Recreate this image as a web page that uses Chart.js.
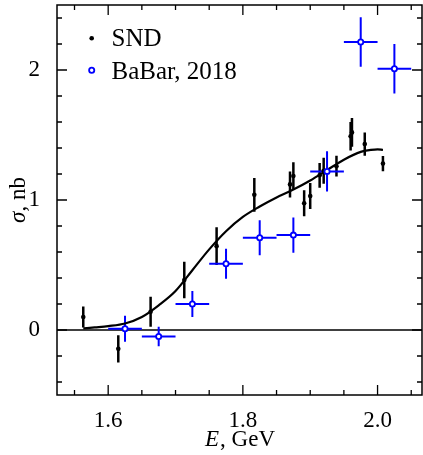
<!DOCTYPE html>
<html>
<head>
<meta charset="utf-8">
<script src="https://cdn.jsdelivr.net/npm/chart.js@4.4.0/dist/chart.umd.min.js"></script>
<style>
html, body { margin: 0; padding: 0; background: #fff; }
</style>
</head>
<body>
<canvas id="chart" width="423" height="455"></canvas>
<script>
// SND points (E in GeV, sigma in nb, symmetric stat. error)
var sndE     = [1.563, 1.615, 1.663, 1.713, 1.761, 1.817, 1.870, 1.875, 1.891, 1.900, 1.914, 1.920, 1.939, 1.960, 1.962, 1.981, 2.008];
var sndSigma = [0.10, -0.145, 0.14, 0.385, 0.645, 1.04, 1.12, 1.185, 0.975, 1.03, 1.19, 1.225, 1.26, 1.49, 1.52, 1.43, 1.28];
var sndErr   = [0.08, 0.105, 0.115, 0.14, 0.145, 0.13, 0.10, 0.105, 0.10, 0.10, 0.095, 0.10, 0.08, 0.11, 0.11, 0.09, 0.058];

// BaBar 2018 points
var babarE     = [1.625, 1.675, 1.725, 1.775, 1.825, 1.875, 1.925, 1.975, 2.025];
var babarSigma = [0.01, -0.05, 0.20, 0.51, 0.71, 0.73, 1.22, 2.215, 2.01];
var babarErr   = [0.10, 0.075, 0.10, 0.115, 0.135, 0.135, 0.155, 0.19, 0.19];
var babarEErr  = [0.025, 0.025, 0.025, 0.025, 0.025, 0.025, 0.025, 0.025, 0.025];

// fit curve
var fitE     = [1.563, 1.58, 1.60, 1.625, 1.65, 1.675, 1.70, 1.725, 1.75, 1.775, 1.80, 1.825, 1.85, 1.875, 1.90, 1.925, 1.95, 1.975, 1.99, 2.00, 2.008];
var fitSigma = [0.012, 0.02, 0.03, 0.05, 0.10, 0.19, 0.30, 0.46, 0.62, 0.76, 0.87, 0.95, 1.02, 1.08, 1.15, 1.23, 1.31, 1.37, 1.385, 1.39, 1.385];

// ticks
var xMajorTicks = [1.6, 1.8, 2.0];
var xMinorTicks = [1.55, 1.65, 1.7, 1.75, 1.85, 1.9, 1.95, 2.05];
var yMajorTicks = [0, 1, 2];
var yMinorTicks = [-0.4, -0.2, 0.2, 0.4, 0.6, 0.8, 1.2, 1.4, 1.6, 1.8, 2.2, 2.4];

var BLUE = '#0000ff';
var SERIF = '"Liberation Serif", "DejaVu Serif", serif';

function pts(xs, ys) {
    var out = [];
    for (var i = 0; i < xs.length; i++) {
        out.push({x: xs[i], y: ys[i]});
    }
    return out;
}

function noPad(s) {
    s.paddingTop = 0;
    s.paddingBottom = 0;
    s.paddingLeft = 0;
    s.paddingRight = 0;
}

var overlay = {
    id: 'overlay',
    beforeDatasetsDraw: function(chart) {
        var ctx = chart.ctx;
        var xs = chart.scales.x, ys = chart.scales.y;
        var a = chart.chartArea;
        ctx.save();
        // zero line
        ctx.strokeStyle = '#000';
        ctx.lineWidth = 1.3;
        ctx.beginPath();
        ctx.moveTo(a.left, ys.getPixelForValue(0));
        ctx.lineTo(a.right, ys.getPixelForValue(0));
        ctx.stroke();
        // SND error bars
        ctx.lineWidth = 2.5;
        ctx.beginPath();
        for (var i = 0; i < sndE.length; i++) {
            var px = xs.getPixelForValue(sndE[i]);
            ctx.moveTo(px, ys.getPixelForValue(sndSigma[i] - sndErr[i]));
            ctx.lineTo(px, ys.getPixelForValue(sndSigma[i] + sndErr[i]));
        }
        ctx.stroke();
        // BaBar error bars
        ctx.strokeStyle = BLUE;
        ctx.lineWidth = 2;
        ctx.beginPath();
        for (var j = 0; j < babarE.length; j++) {
            var bx = xs.getPixelForValue(babarE[j]);
            var by = ys.getPixelForValue(babarSigma[j]);
            ctx.moveTo(bx, ys.getPixelForValue(babarSigma[j] - babarErr[j]));
            ctx.lineTo(bx, ys.getPixelForValue(babarSigma[j] + babarErr[j]));
            ctx.moveTo(xs.getPixelForValue(babarE[j] - babarEErr[j]), by);
            ctx.lineTo(xs.getPixelForValue(babarE[j] + babarEErr[j]), by);
        }
        ctx.stroke();
        ctx.restore();
    },
    afterDraw: function(chart) {
        var ctx = chart.ctx;
        var xs = chart.scales.x, ys = chart.scales.y;
        var a = chart.chartArea;
        ctx.save();
        ctx.strokeStyle = '#000';
        ctx.lineWidth = 1.5;
        ctx.strokeRect(a.left, a.top, a.right - a.left, a.bottom - a.top);

        // inward ticks on all sides
        ctx.lineWidth = 1.3;
        ctx.beginPath();
        function xt(v, len) {
            var p = xs.getPixelForValue(v);
            ctx.moveTo(p, a.bottom); ctx.lineTo(p, a.bottom - len);
            ctx.moveTo(p, a.top); ctx.lineTo(p, a.top + len);
        }
        function yt(v, len) {
            var p = ys.getPixelForValue(v);
            ctx.moveTo(a.left, p); ctx.lineTo(a.left + len, p);
            ctx.moveTo(a.right, p); ctx.lineTo(a.right - len, p);
        }
        xMajorTicks.forEach(function(v){ xt(v, 10); });
        xMinorTicks.forEach(function(v){ xt(v, 5); });
        yMajorTicks.forEach(function(v){ yt(v, 10); });
        yMinorTicks.forEach(function(v){ yt(v, 5); });
        ctx.stroke();

        // axis titles
        ctx.fillStyle = '#000';
        ctx.textBaseline = 'alphabetic';
        ctx.textAlign = 'left';
        var it = 'italic 23px ' + SERIF, rm = '23px ' + SERIF;
        ctx.font = it; var w1 = ctx.measureText('E').width;
        ctx.font = rm; var w2 = ctx.measureText(', GeV').width;
        var cx = (a.left + a.right) / 2 - (w1 + w2) / 2;
        ctx.font = it; ctx.fillText('E', cx, 446);
        ctx.font = rm; ctx.fillText(', GeV', cx + w1 + 1, 446);

        ctx.save();
        ctx.translate(25, (a.top + a.bottom) / 2);
        ctx.rotate(-Math.PI / 2);
        ctx.font = it; var s1 = ctx.measureText('σ').width;
        ctx.font = rm; var s2 = ctx.measureText(', nb').width;
        var sx = -(s1 + s2) / 2;
        ctx.font = it; ctx.fillText('σ', sx, 0);
        ctx.font = rm; ctx.fillText(', nb', sx + s1, 0);
        ctx.restore();

        // legend
        var ds = chart.data.datasets;
        ctx.font = '25px ' + SERIF;
        ctx.textBaseline = 'alphabetic';
        ctx.fillText(ds[1].label, 111.5, 46);
        ctx.fillText(ds[0].label, 111.5, 79);
        ctx.beginPath();
        ctx.arc(91.7, 38.3, 2.3, 0, Math.PI * 2);
        ctx.fillStyle = '#000';
        ctx.fill();
        ctx.beginPath();
        ctx.arc(91.7, 70.3, 2.6, 0, Math.PI * 2);
        ctx.fillStyle = '#fff';
        ctx.fill();
        ctx.strokeStyle = BLUE;
        ctx.lineWidth = 1.8;
        ctx.stroke();
        ctx.restore();
    }
};

var chart = new Chart(document.getElementById('chart'), {
    type: 'scatter',
    data: {
        datasets: [{
            label: 'BaBar, 2018',
            data: pts(babarE, babarSigma),
            pointRadius: 2.6,
            pointBorderWidth: 1.8,
            borderColor: BLUE,
            backgroundColor: '#fff'
        }, {
            label: 'SND',
            data: pts(sndE, sndSigma),
            pointRadius: 2.3,
            pointBorderWidth: 0,
            borderColor: '#000',
            backgroundColor: '#000'
        }, {
            label: 'fit',
            type: 'line',
            data: pts(fitE, fitSigma),
            borderColor: '#000',
            borderWidth: 2.2,
            pointRadius: 0,
            fill: false,
            cubicInterpolationMode: 'monotone'
        }]
    },
    options: {
        responsive: false,
        animation: false,
        devicePixelRatio: 1,
        layout: { autoPadding: false, padding: { top: 5, right: 1, left: 0, bottom: 0 } },
        plugins: {
            legend: { display: false },
            tooltip: { enabled: false }
        },
        scales: {
            x: {
                type: 'linear',
                min: 1.524,
                max: 2.066,
                grid: { display: false },
                border: { display: false },
                afterBuildTicks: function(s) {
                    s.ticks = xMajorTicks.map(function(v){ return {value: v}; });
                },
                afterFit: function(s) { s.height = 60; noPad(s); },
                ticks: {
                    color: '#000',
                    padding: 4,
                    maxRotation: 0,
                    font: { family: SERIF, size: 23 },
                    callback: function(v) { return v.toFixed(1); }
                }
            },
            y: {
                min: -0.5,
                max: 2.5,
                grid: { display: false },
                border: { display: false },
                afterBuildTicks: function(s) {
                    s.ticks = yMajorTicks.map(function(v){ return {value: v}; });
                },
                afterFit: function(s) { s.width = 57; noPad(s); },
                ticks: {
                    color: '#000',
                    padding: 9,
                    font: { family: SERIF, size: 23 },
                    callback: function(v) { return v.toFixed(0); }
                }
            }
        }
    },
    plugins: [overlay]
});
</script>
</body>
</html>
